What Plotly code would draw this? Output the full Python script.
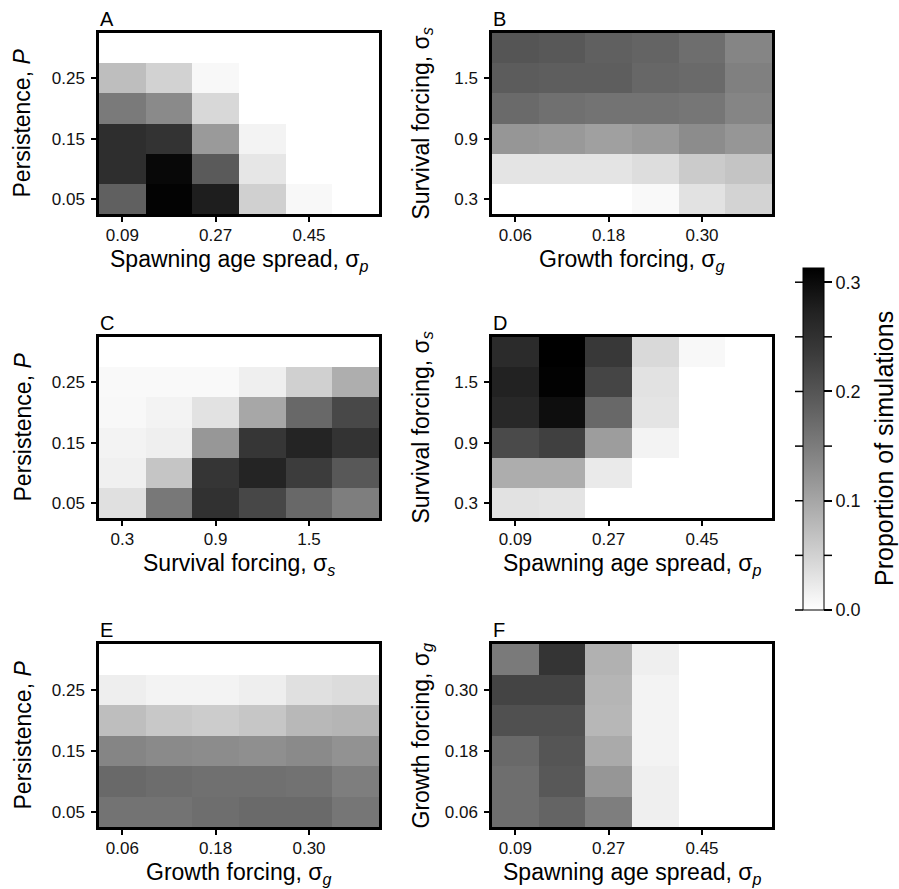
import plotly.graph_objects as go

# ---------------- data ----------------
spawn = [0.09, 0.18, 0.27, 0.36, 0.45, 0.54]       # spawning age spread, sigma_p
growth = [0.06, 0.12, 0.18, 0.24, 0.30, 0.36]      # growth forcing, sigma_g
surv = [0.3, 0.6, 0.9, 1.2, 1.5, 1.8]              # survival forcing, sigma_s
persist = [0.05, 0.10, 0.15, 0.20, 0.25, 0.30]     # persistence, P

# rows = y values (bottom to top), columns = x values
zA = [  # x: spawn, y: persist
    [0.185, 0.309, 0.278, 0.052, 0.008, 0.0],
    [0.254, 0.304, 0.193, 0.027, 0.0, 0.0],
    [0.254, 0.247, 0.114, 0.013, 0.0, 0.0],
    [0.153, 0.133, 0.043, 0.0, 0.0, 0.0],
    [0.072, 0.049, 0.008, 0.0, 0.0, 0.0],
    [0.0, 0.0, 0.0, 0.0, 0.0, 0.0],
]
zB = [  # x: growth, y: surv
    [0.0, 0.0, 0.0, 0.006, 0.031, 0.0485],
    [0.029, 0.029, 0.029, 0.037, 0.058, 0.066],
    [0.119, 0.115, 0.107, 0.114, 0.1305, 0.119],
    [0.173, 0.165, 0.162, 0.162, 0.158, 0.139],
    [0.190, 0.188, 0.188, 0.177, 0.173, 0.146],
    [0.200, 0.196, 0.185, 0.181, 0.168, 0.139],
]
zC = [  # x: surv, y: persist
    [0.034, 0.155, 0.250, 0.218, 0.176, 0.148],
    [0.016, 0.064, 0.244, 0.270, 0.233, 0.196],
    [0.0125, 0.017, 0.1175, 0.243, 0.269, 0.247],
    [0.008, 0.0135, 0.031, 0.0995, 0.175, 0.217],
    [0.006, 0.006, 0.006, 0.017, 0.052, 0.0905],
    [0.0, 0.0, 0.0, 0.0, 0.0, 0.0],
]
zD = [  # x: spawn, y: surv
    [0.032, 0.029, 0.0, 0.0, 0.0, 0.0],
    [0.0915, 0.0915, 0.023, 0.0, 0.0, 0.0],
    [0.214, 0.228, 0.1105, 0.0125, 0.0, 0.0],
    [0.264, 0.296, 0.175, 0.029, 0.0, 0.0],
    [0.272, 0.311, 0.221, 0.031, 0.0, 0.0],
    [0.259, 0.313, 0.239, 0.041, 0.008, 0.0],
]
zE = [  # x: growth, y: persist
    [0.161, 0.161, 0.168, 0.173, 0.173, 0.158],
    [0.174, 0.169, 0.165, 0.165, 0.163, 0.148],
    [0.139, 0.133, 0.1305, 0.127, 0.133, 0.123],
    [0.073, 0.0607, 0.056, 0.063, 0.079, 0.0825],
    [0.018, 0.0135, 0.0135, 0.018, 0.034, 0.038],
    [0.0, 0.0, 0.0, 0.0, 0.0, 0.0],
]
zF = [  # x: spawn, y: growth
    [0.168, 0.181, 0.148, 0.017, 0.0, 0.0],
    [0.168, 0.196, 0.119, 0.017, 0.0, 0.0],
    [0.174, 0.200, 0.096, 0.0135, 0.0, 0.0],
    [0.207, 0.207, 0.080, 0.0135, 0.0, 0.0],
    [0.223, 0.223, 0.0825, 0.0135, 0.0, 0.0],
    [0.153, 0.245, 0.088, 0.017, 0.0, 0.0],
]

spawn_ticks = [0.09, 0.27, 0.45]
growth_ticks = [0.06, 0.18, 0.30]
surv_ticks = [0.3, 0.9, 1.5]
persist_ticks = [0.05, 0.15, 0.25]

cb_major = [0.0, 0.1, 0.2, 0.3]
cb_minor = [0.05, 0.15, 0.25]
zmax = 0.313

SP = "Spawning age spread, σ<sub><i>p</i></sub>"
GR = "Growth forcing, σ<sub><i>g</i></sub>"
SU = "Survival forcing, σ<sub><i>s</i></sub>"
PE = "Persistence, <i>P</i>"
CB_TITLE = "Proportion of simulations"

panels = [
    # letter, x, y, z, xticks, yticks, xfmt, yfmt, xtitle, ytitle
    ("A", spawn, persist, zA, spawn_ticks, persist_ticks, ".2f", ".2f", SP, PE),
    ("B", growth, surv, zB, growth_ticks, surv_ticks, ".2f", ".1f", GR, SU),
    ("C", surv, persist, zC, surv_ticks, persist_ticks, ".1f", ".2f", SU, PE),
    ("D", spawn, surv, zD, spawn_ticks, surv_ticks, ".2f", ".1f", SP, SU),
    ("E", growth, persist, zE, growth_ticks, persist_ticks, ".2f", ".2f", GR, PE),
    ("F", spawn, growth, zF, spawn_ticks, growth_ticks, ".2f", ".2f", SP, GR),
]

# ---------------- layout geometry (pixels) ----------------
W, H = 899, 889
col_x = [(99, 379), (492, 772)]
row_y = [(33, 214), (337, 518), (644, 827)]

FONT = "Liberation Sans, Arial, Helvetica, sans-serif"
TICK_SIZE = 17
TITLE_SIZE = 23

# Lab-like white->black gray ramp
gray_stops = [255, 219, 185, 151, 119, 88, 59, 33, 0]
colorscale = [[i / (len(gray_stops) - 1), f"rgb({g},{g},{g})"] for i, g in enumerate(gray_stops)]

fig = go.Figure()
annotations = []
layout_axes = {}

for i, (letter, xs, ys, z, xt, yt, xf, yf, xtitle, ytitle) in enumerate(panels):
    r, c = divmod(i, 2)
    x0, x1 = col_x[c]
    ytop, ybot = row_y[r]
    n = i + 1
    xa = "x" if n == 1 else f"x{n}"
    ya = "y" if n == 1 else f"y{n}"
    fig.add_trace(go.Heatmap(
        x=xs, y=ys, z=z, coloraxis="coloraxis", xaxis=xa, yaxis=ya,
        hovertemplate="%{x}, %{y}: %{z}<extra></extra>",
    ))
    dx = xs[1] - xs[0]
    dy = ys[1] - ys[0]
    common = dict(
        showline=True, mirror=True, linewidth=2.5, linecolor="black",
        ticks="outside", ticklen=5, tickwidth=1.5, tickcolor="black",
        showgrid=False, zeroline=False,
        tickfont=dict(family=FONT, size=TICK_SIZE, color="#111"),
    )
    layout_axes["xaxis" if n == 1 else f"xaxis{n}"] = dict(
        domain=[x0 / W, x1 / W], anchor=ya,
        range=[xs[0] - dx / 2, xs[-1] + dx / 2],
        tickvals=xt, tickformat=xf, ticklabelstandoff=-1, **common)
    layout_axes["yaxis" if n == 1 else f"yaxis{n}"] = dict(
        domain=[1 - ybot / H, 1 - ytop / H], anchor=xa,
        range=[ys[0] - dy / 2, ys[-1] + dy / 2],
        tickvals=yt, tickformat=yf, ticklabelstandoff=3, **common)

    # panel letter
    annotations.append(dict(
        text=letter, x=(x0 - 1) / W, y=1 - (ytop - 1) / H, xref="paper", yref="paper",
        xanchor="left", yanchor="bottom", showarrow=False,
        font=dict(family=FONT, size=20, color="black")))
    # x title
    annotations.append(dict(
        text=xtitle, x=(x0 + x1) / 2 / W, y=1 - (ybot + 46) / H, xref="paper", yref="paper",
        xanchor="center", yanchor="middle", showarrow=False,
        font=dict(family=FONT, size=TITLE_SIZE, color="black")))
    # y title
    off = 77 if c == 0 else 70
    annotations.append(dict(
        text=ytitle, x=(x0 - off) / W, y=1 - (ytop + ybot) / 2 / H, xref="paper", yref="paper",
        xanchor="center", yanchor="middle", textangle=-90, showarrow=False,
        font=dict(family=FONT, size=TITLE_SIZE, color="black")))

# colorbar geometry
cb_x0, cb_x1 = 803, 824
cb_top, cb_bot = 268, 610
cb_len = cb_bot - cb_top
TL = 8

# colorbar title
annotations.append(dict(
    text=CB_TITLE, x=884 / W, y=1 - 449 / H, xref="paper", yref="paper",
    xanchor="center", yanchor="middle", textangle=-90, showarrow=False,
    font=dict(family=FONT, size=25, color="black")))

shapes = []
for v in cb_major + cb_minor:
    ypx = cb_bot - v / zmax * cb_len
    yp = 1 - ypx / H
    shapes.append(dict(type="line", xref="paper", yref="paper",
                       x0=(cb_x0 - TL) / W, x1=cb_x0 / W, y0=yp, y1=yp,
                       line=dict(color="black", width=1.5)))
for v in cb_minor:
    ypx = cb_bot - v / zmax * cb_len
    yp = 1 - ypx / H
    shapes.append(dict(type="line", xref="paper", yref="paper",
                       x0=cb_x1 / W, x1=(cb_x1 + TL) / W, y0=yp, y1=yp,
                       line=dict(color="black", width=1.5)))

fig.update_layout(
    width=W, height=H, margin=dict(l=0, r=0, t=0, b=0),
    paper_bgcolor="white", plot_bgcolor="white",
    font=dict(family=FONT, color="black"),
    coloraxis=dict(
        colorscale=colorscale, cmin=0, cmax=zmax,
        colorbar=dict(
            x=cb_x0 / W, xanchor="left", xpad=0, ypad=0,
            y=1 - (cb_top + cb_bot) / 2 / H, yanchor="middle",
            len=cb_len, lenmode="pixels", thickness=cb_x1 - cb_x0, thicknessmode="pixels",
            outlinewidth=1, outlinecolor="black",
            tickvals=cb_major, tickformat=".1f",
            ticks="outside", ticklen=TL, tickwidth=1.5, tickcolor="black",
            tickfont=dict(family=FONT, size=18, color="#111"),
        ),
    ),
    annotations=annotations,
    shapes=shapes,
    showlegend=False,
    **layout_axes,
)

fig.write_html("out.html")
